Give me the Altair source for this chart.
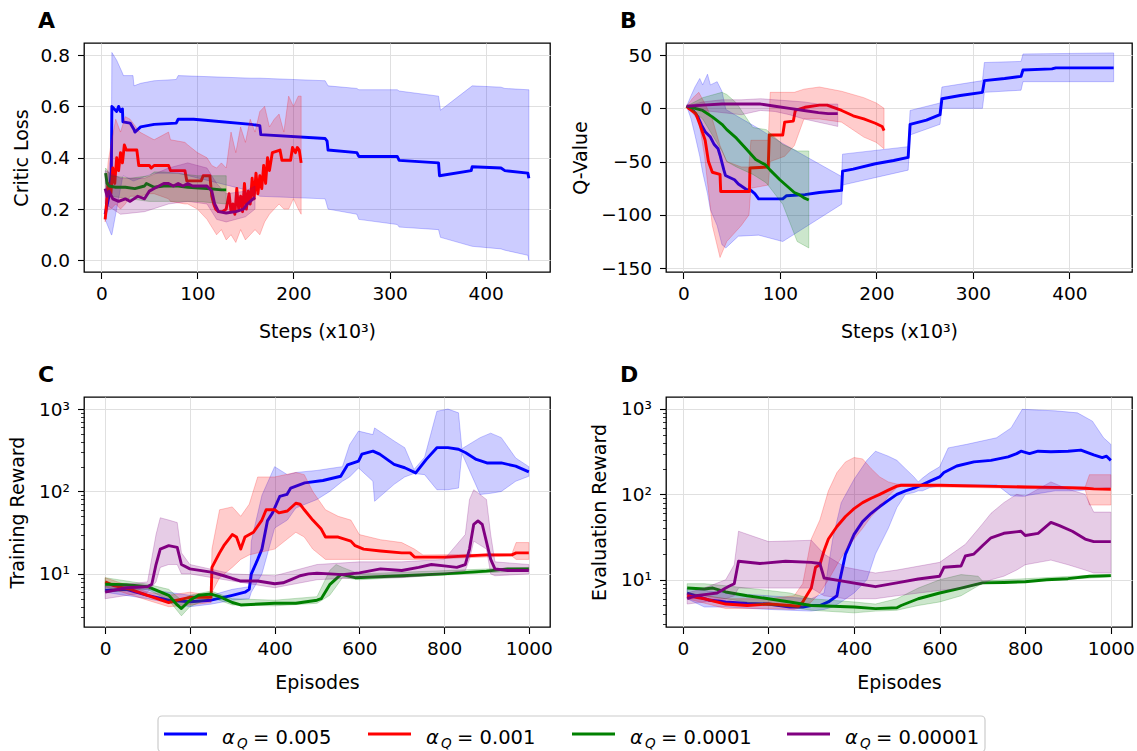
import altair as alt
import pandas as pd

FONT = "DejaVu Sans"
COLORS = ["#0000ff", "#ff0000", "#008000", "#800080"]
ALPHAS = ["0.005", "0.001", "0.0001", "0.00001"]

# ---------------- Panel A : Critic loss vs steps (x10^3) ----------------
A1_X = [4, 8, 10.5, 11, 16, 18, 20, 22, 22.5, 30, 34, 35, 41, 55, 78, 80, 96, 111, 156, 165, 166, 233, 235, 236, 266, 268, 308, 310, 351, 352, 385, 386, 416, 420, 444, 445]
A1_Y = [0.18, 0.25, 0.35, 0.6, 0.58, 0.6, 0.58, 0.59, 0.54, 0.535, 0.51, 0.50, 0.52, 0.53, 0.535, 0.55, 0.55, 0.545, 0.53, 0.525, 0.49, 0.475, 0.465, 0.43, 0.42, 0.405, 0.405, 0.39, 0.38, 0.33, 0.35, 0.365, 0.36, 0.35, 0.34, 0.32]
A1_BX = [4, 10.5, 11, 16, 22, 23, 33, 34, 41, 55, 78, 80, 156, 165, 233, 236, 266, 268, 308, 310, 351, 353, 386, 416, 420, 444, 445]
A1_HI = [0.2, 0.45, 0.81, 0.78, 0.73, 0.72, 0.72, 0.68, 0.69, 0.70, 0.705, 0.72, 0.71, 0.71, 0.70, 0.68, 0.67, 0.665, 0.665, 0.66, 0.64, 0.585, 0.68, 0.675, 0.67, 0.665, 0.665]
A1_LO = [0.16, 0.1, 0.1, 0.2, 0.32, 0.33, 0.31, 0.31, 0.32, 0.34, 0.34, 0.34, 0.27, 0.25, 0.24, 0.2, 0.18, 0.16, 0.14, 0.13, 0.12, 0.09, 0.055, 0.045, 0.04, 0.02, 0.0]

A2_X = [4, 5, 7, 10, 12, 14, 16, 18, 20, 22, 24, 26, 30, 37, 38, 39, 50, 52, 55, 70, 72, 87, 89, 104, 106, 113, 115, 117, 119, 122, 126, 130, 133, 135, 137, 139, 141, 143, 145, 147, 149, 151, 153, 155, 157, 159, 161, 163, 165, 167, 169, 171, 173, 175, 178, 186, 188, 197, 199, 202, 204, 206, 208]
A2_Y = [0.16, 0.2, 0.3, 0.26, 0.36, 0.3, 0.4, 0.35, 0.42, 0.38, 0.45, 0.43, 0.43, 0.43, 0.40, 0.37, 0.37, 0.36, 0.37, 0.37, 0.35, 0.35, 0.31, 0.31, 0.33, 0.33, 0.25, 0.22, 0.2, 0.19, 0.19, 0.2, 0.26, 0.19, 0.22, 0.18, 0.28, 0.2, 0.25, 0.19, 0.3, 0.2, 0.27, 0.22, 0.32, 0.24, 0.34, 0.26, 0.33, 0.28, 0.37, 0.3, 0.4, 0.35, 0.42, 0.43, 0.39, 0.39, 0.44, 0.42, 0.44, 0.43, 0.38]
A2_BX = [4, 7, 10, 15, 20, 25, 30, 40, 50, 55, 70, 72, 87, 90, 100, 110, 115, 120, 125, 130, 135, 140, 145, 150, 155, 160, 165, 170, 175, 180, 185, 190, 195, 200, 205, 208]
A2_HI = [0.2, 0.38, 0.45, 0.55, 0.5, 0.56, 0.55, 0.5, 0.48, 0.47, 0.5, 0.47, 0.46, 0.45, 0.42, 0.4, 0.37, 0.36, 0.38, 0.36, 0.5, 0.42, 0.52, 0.46, 0.55, 0.5, 0.58, 0.6, 0.52, 0.55, 0.57, 0.5, 0.64, 0.6, 0.64, 0.64]
A2_LO = [0.15, 0.2, 0.2, 0.22, 0.2, 0.22, 0.25, 0.25, 0.26, 0.26, 0.24, 0.23, 0.22, 0.22, 0.2, 0.16, 0.13, 0.1, 0.12, 0.08, 0.1, 0.07, 0.12, 0.08, 0.1, 0.12, 0.1, 0.15, 0.18, 0.2, 0.22, 0.2, 0.2, 0.24, 0.2, 0.18]

A3_X = [4.5, 6, 8, 15, 25, 35, 45, 47, 55, 65, 80, 90, 110, 125, 130]
A3_Y = [0.34, 0.3, 0.29, 0.285, 0.285, 0.28, 0.29, 0.3, 0.285, 0.29, 0.29, 0.285, 0.28, 0.275, 0.275]
A3_BX = [4.5, 10, 30, 50, 55, 65, 100, 130]
A3_HI = [0.36, 0.33, 0.32, 0.33, 0.345, 0.345, 0.33, 0.33]
A3_LO = [0.27, 0.25, 0.24, 0.23, 0.23, 0.23, 0.23, 0.22]

A4_X = [4, 6, 8, 12, 18, 25, 30, 38, 45, 50, 55, 60, 65, 70, 75, 80, 85, 90, 95, 100, 110, 115, 118, 122, 130, 140, 148, 152, 158, 160]
A4_Y = [0.28, 0.25, 0.27, 0.24, 0.23, 0.24, 0.23, 0.25, 0.24, 0.27, 0.28, 0.29, 0.3, 0.3, 0.29, 0.3, 0.29, 0.3, 0.29, 0.29, 0.29, 0.27, 0.22, 0.19, 0.185, 0.19, 0.2, 0.22, 0.24, 0.245]
A4_BX = [4, 20, 45, 70, 90, 110, 120, 130, 150, 160]
A4_HI = [0.35, 0.32, 0.32, 0.36, 0.38, 0.36, 0.3, 0.26, 0.27, 0.29]
A4_LO = [0.22, 0.18, 0.19, 0.22, 0.23, 0.22, 0.16, 0.15, 0.17, 0.2]

# ---------------- Panel B : Q-value vs steps ----------------
B1_X = [3.4, 11, 15, 19, 22.6, 28, 32, 36, 38, 42, 43.6, 53, 57, 65, 70, 74, 78, 103, 107, 126, 141, 164, 165, 176, 199, 218, 233, 235, 252, 266, 268, 287, 310, 312, 333, 350, 352, 382, 386, 446]
B1_Y = [2, -3, -8, -16, -22, -27, -34, -38, -44, -58, -63, -67, -71, -76, -77, -80, -85, -85, -82, -81, -79, -77, -59, -57, -52, -49, -46, -15, -11, -6, 9, 12, 15, 26, 28, 30, 36, 37, 38, 38]
B1_BX = [3.4, 8, 12, 17, 20, 25, 28, 35, 40, 44, 57, 78, 103, 164, 165, 233, 235, 266, 268, 310, 312, 350, 352, 446]
B1_HI = [2, 12, 20, 28, 22, 32, 22, 25, 16, -1, -8, -19, -33, -64, -43, -36, -2, 5, 20, 26, 43, 44, 51, 52]
B1_LO = [2, -10, -25, -45, -60, -80, -95, -110, -128, -131, -120, -119, -125, -90, -72, -58, -25, -15, 0, 0, 15, 17, 25, 25]

B2_X = [3.4, 5.4, 13, 17, 22.6, 26, 30, 38, 38.7, 68.5, 69, 88, 89, 103, 105, 114, 116, 126, 141, 149, 164, 176, 187, 199, 206, 208]
B2_Y = [2, 0, -5, -15, -30, -50, -60, -62, -78, -78, -56, -55, -25, -25, -13, -12, -2, 1, 3, 3, -2, -7, -10, -14, -17, -21]
B2_BX = [3.4, 10, 16, 22, 30, 38, 45, 60, 68, 70, 88, 90, 105, 115, 125, 141, 164, 187, 200, 208]
B2_HI = [2, 10, 15, 5, -10, -35, -50, -55, -55, -30, -30, 15, 15, 15, 18, 20, 16, 10, 5, 0]
B2_LO = [2, -5, -12, -45, -110, -140, -125, -110, -100, -75, -72, -50, -45, -35, -10, -10, -13, -27, -32, -38]

B3_X = [3.4, 20, 30, 40, 45, 55, 65, 75, 85, 90, 100, 110, 115, 120, 125, 130]
B3_Y = [2, -2, -8, -15, -20, -28, -38, -48, -53, -58, -67, -75, -79, -81, -84, -86]
B3_BX = [3.4, 20, 40, 45, 55, 72, 86, 103, 118, 130]
B3_HI = [2, 10, 15, 13, 5, -18, -20, -34, -40, -40]
B3_LO = [2, -10, -40, -50, -55, -62, -70, -90, -125, -131]

B4_X = [3.4, 20, 40, 60, 80, 95, 110, 125, 140, 150, 160]
B4_Y = [2, 3, 4, 4, 4, 2, 0, -2, -4, -5, -5]
B4_BX = [3.4, 20, 40, 60, 80, 95, 110, 125, 140, 150, 160]
B4_HI = [2, 6, 8, 8, 9, 8, 7, 6, 4, 4, 4]
B4_LO = [2, -2, -4, -6, -2, -3, -6, -10, -13, -15, -17]

# ---------------- Panel C : training reward vs episodes ----------------
C1_X = [0, 50, 100, 150, 200, 250, 300, 330, 340, 345, 360, 370, 383, 395, 412, 429, 438, 471, 514, 556, 572, 598, 606, 632, 648, 682, 707, 733, 758, 783, 809, 834, 851, 876, 901, 935, 969, 1000]
C1_Y = [6.3, 6.5, 5.5, 4.8, 4.6, 4.8, 5.5, 6, 6.5, 10, 15, 20, 44, 55, 87, 92, 110, 127, 136, 153, 210, 234, 284, 309, 284, 213, 194, 168, 245, 340, 340, 325, 295, 245, 222, 222, 203, 173]
C1_BX = [0, 100, 200, 250, 300, 340, 345, 370, 400, 430, 450, 500, 530, 560, 577, 598, 632, 636, 682, 707, 729, 754, 783, 809, 834, 842, 885, 910, 935, 969, 1000]
C1_HI = [7.5, 6.5, 5.5, 5.5, 6.5, 7, 25, 90, 200, 160, 170, 180, 190, 200, 370, 540, 490, 590, 410, 340, 185, 260, 940, 1000, 900, 330, 450, 510, 450, 255, 200]
C1_LO = [6, 5, 4, 4.3, 4.8, 5, 6, 10, 36, 45, 63, 80, 100, 133, 150, 193, 133, 76, 122, 150, 165, 160, 105, 105, 110, 290, 92, 95, 100, 133, 153]

C2_X = [0, 20, 60, 100, 150, 170, 200, 250, 252, 270, 280, 300, 310, 320, 330, 350, 370, 380, 400, 410, 430, 450, 460, 470, 490, 510, 520, 550, 580, 590, 610, 650, 700, 720, 730, 800, 900, 960, 970, 1000]
C2_Y = [8, 7.2, 6.5, 5.5, 4.5, 4.8, 5.2, 5.2, 12, 18, 22, 30, 28, 20, 28, 32, 45, 60, 60, 55, 58, 72, 70, 60, 45, 35, 28, 28, 25, 22, 20, 19, 18, 18, 16, 16, 17, 17, 18, 18]
C2_BX = [0, 100, 150, 200, 250, 252, 270, 300, 320, 340, 360, 400, 450, 470, 490, 520, 550, 580, 600, 650, 700, 730, 750, 960, 970, 1000]
C2_HI = [9, 6, 5.5, 6, 5.5, 20, 60, 65, 50, 70, 150, 150, 170, 160, 100, 60, 50, 45, 30, 26, 24, 20, 17, 17.5, 24, 24]
C2_LO = [7, 4.8, 4, 4.2, 4.5, 6, 9, 12, 15, 17, 18, 20, 32, 28, 20, 15, 15, 15, 15, 15, 15, 15, 15, 16.5, 15, 15]

C3_X = [0, 50, 100, 150, 170, 180, 200, 220, 250, 270, 300, 320, 400, 450, 500, 510, 530, 556, 560, 590, 700, 800, 900, 950, 1000]
C3_Y = [7.5, 7.4, 7, 5.5, 4.2, 3.8, 4.8, 5.5, 5.7, 5.3, 4.5, 4.2, 4.4, 4.4, 4.8, 5, 7.4, 9.8, 9.8, 9, 9.5, 10, 10.8, 11.5, 11.5]
C3_BX = [0, 100, 150, 180, 200, 250, 300, 400, 500, 530, 545, 560, 600, 1000]
C3_HI = [9, 7.5, 6.5, 4.8, 5.5, 6.2, 5, 4.8, 5.3, 11, 13, 12, 10, 12]
C3_LO = [6, 6.5, 4.8, 3.1, 4, 5.2, 4.2, 4.1, 4.4, 5.5, 7, 9, 8.5, 11]

C4_X = [0, 50, 100, 110, 120, 130, 150, 170, 180, 200, 250, 280, 300, 320, 360, 400, 420, 440, 460, 480, 500, 530, 560, 600, 650, 700, 740, 770, 800, 830, 850, 860, 870, 880, 890, 910, 920, 950, 1000]
C4_Y = [6, 6.8, 7, 7.5, 13, 20, 22, 21, 13, 11.5, 10.5, 9.5, 8.8, 8.2, 8.2, 7.6, 7.8, 8.6, 9.5, 10, 10.2, 10, 9.8, 10.3, 11.5, 11, 12, 13, 12.5, 12, 13, 20, 40, 44, 40, 15, 11.5, 11, 11]
C4_BX = [0, 100, 120, 130, 150, 170, 180, 200, 300, 400, 500, 600, 700, 800, 850, 860, 870, 900, 910, 920, 1000]
C4_HI = [7, 8, 30, 48, 45, 42, 18, 13, 10, 9.5, 13, 14, 14, 15, 30, 80, 105, 80, 30, 14, 13]
C4_LO = [5, 6, 8, 12, 13, 13, 10, 10, 8.2, 6.8, 8.5, 9, 9, 10, 11, 15, 25, 20, 10, 9.5, 10]

# ---------------- Panel D : evaluation reward vs episodes ----------------
D1_X = [10, 30, 60, 100, 150, 200, 250, 280, 300, 320, 340, 360, 365, 380, 400, 420, 440, 460, 480, 500, 520, 540, 560, 580, 600, 610, 640, 680, 720, 760, 780, 790, 810, 830, 860, 900, 930, 960, 980, 990, 1000]
D1_Y = [7, 6.5, 5.8, 5.5, 5.3, 5.2, 4.8, 4.8, 5, 5, 5.5, 6.5, 9, 20, 34, 48, 60, 72, 85, 100, 110, 118, 130, 145, 160, 180, 215, 240, 250, 275, 300, 320, 300, 320, 315, 320, 330, 290, 270, 280, 250]
D1_BX = [10, 50, 100, 200, 300, 330, 350, 370, 400, 430, 450, 480, 500, 520, 540, 550, 560, 577, 600, 620, 663, 733, 767, 793, 870, 922, 957, 983, 1000]
D1_HI = [8, 7.5, 7, 6.5, 6, 7, 30, 80, 150, 250, 320, 280, 250, 200, 160, 140, 155, 180, 210, 350, 385, 460, 600, 990, 950, 900, 720, 460, 385]
D1_LO = [6, 4.8, 4.8, 4.5, 4.3, 4.5, 4.8, 5.5, 7, 10, 20, 40, 70, 100, 105, 110, 110, 120, 125, 128, 130, 130, 96, 95, 110, 110, 115, 118, 120]

D2_X = [10, 50, 100, 150, 200, 250, 270, 280, 300, 310, 320, 330, 340, 360, 380, 400, 420, 440, 460, 480, 500, 510, 600, 700, 800, 900, 940, 960, 1000]
D2_Y = [6.5, 6, 5.2, 5, 5.2, 5, 4.9, 5.5, 8, 14, 15, 22, 30, 42, 55, 68, 80, 90, 100, 112, 125, 128, 128, 125, 122, 120, 118, 116, 115]
D2_BX = [10, 100, 200, 260, 280, 300, 320, 340, 360, 380, 400, 420, 440, 460, 480, 500, 510, 940, 950, 1000]
D2_HI = [7, 6, 6, 6.5, 9, 30, 50, 110, 180, 240, 270, 260, 200, 160, 140, 132, 132, 122, 170, 170]
D2_LO = [6, 4.6, 4.6, 4.5, 4.8, 5.5, 7, 10, 15, 22, 30, 40, 55, 70, 95, 120, 124, 114, 75, 75]

D3_X = [10, 50, 70, 100, 150, 200, 250, 300, 350, 400, 450, 500, 510, 550, 600, 650, 700, 750, 800, 850, 900, 950, 1000]
D3_Y = [8, 7.8, 8, 7.2, 6.5, 6, 5.5, 5, 4.9, 4.8, 4.6, 4.7, 5, 6, 7, 8, 9.2, 9.3, 9.5, 10, 10.3, 11, 11.2]
D3_BX = [10, 50, 100, 200, 250, 300, 400, 450, 500, 550, 600, 650, 690, 700, 1000]
D3_HI = [9, 9, 8.5, 7.5, 7, 6, 5.5, 5.2, 6, 8, 10, 11.5, 11, 9.7, 11.6]
D3_LO = [7, 6.5, 6, 5, 4.8, 4.4, 4.1, 4.3, 4.4, 5, 5.5, 6.5, 8.5, 9.0, 10.8]

D4_X = [10, 30, 60, 80, 100, 110, 120, 130, 180, 240, 300, 320, 330, 380, 420, 450, 500, 550, 600, 610, 650, 660, 680, 700, 720, 750, 790, 800, 830, 860, 880, 910, 940, 960, 1000]
D4_Y = [6, 6.5, 6.8, 7, 8, 8.5, 9, 16.5, 15.5, 16.5, 16, 15.5, 10.5, 9.5, 8.8, 8.3, 9.2, 10.2, 11, 14, 14.5, 19, 20, 25, 31, 35, 37, 33, 35, 47, 43, 37, 30, 28, 28]
D4_BX = [10, 50, 100, 120, 130, 200, 300, 330, 380, 450, 500, 600, 660, 700, 720, 750, 780, 800, 860, 900, 940, 960, 1000]
D4_HI = [7, 8, 10, 15, 37, 28, 29, 20, 14, 12, 13, 16, 26, 45, 60, 80, 100, 95, 140, 115, 100, 62, 62]
D4_LO = [5.2, 5.5, 6, 6.5, 8, 8, 8, 6.5, 6, 6, 6.5, 7.5, 8, 9, 10, 11, 13, 15, 17, 15, 13, 12, 12]

# tick values
STEP_TICKS = [0, 100, 200, 300, 400]
EP_TICKS = [0, 200, 400, 600, 800, 1000]
LOSS_TICKS = [0.0, 0.2, 0.4, 0.6, 0.8]
Q_TICKS = [-150, -100, -50, 0, 50]
LOG_TICKS = [3, 4, 5, 6, 7, 8, 9, 10, 20, 30, 40, 50, 60, 70, 80, 90,
             100, 200, 300, 400, 500, 600, 700, 800, 900, 1000]

# ---------------- layout constants ----------------
W = 466
H_TOP = 229
H_BOT = 230
GRID = "#e0e0e0"
TICK_FS = 18.5
TITLE_FS = 19
DECADE = "datum.value === 10 || datum.value === 100 || datum.value === 1000"


def x_axis(title, vals, ty):
    return alt.Axis(title=title, values=vals, format="d", grid=True, gridColor=GRID, gridWidth=1,
                    domain=False, tickSize=6.5, tickColor="black", tickWidth=1.1,
                    labelFont=FONT, labelFontSize=TICK_FS, labelColor="black", labelPadding=6,
                    labelFlush=False, labelOverlap=False,
                    titleFont=FONT, titleFontSize=TITLE_FS, titleFontWeight="normal", titleColor="black",
                    titleX=W / 2, titleY=ty, titleBaseline="alphabetic", titleAlign="center")


def y_axis(title, vals, fmt, tx, h):
    return alt.Axis(title=title, values=vals, format=fmt, grid=True, gridColor=GRID, gridWidth=1,
                    domain=False, tickSize=6.5, tickColor="black", tickWidth=1.1,
                    labelFont=FONT, labelFontSize=TICK_FS, labelColor="black", labelPadding=8,
                    labelFlush=False, labelOverlap=False,
                    titleFont=FONT, titleFontSize=TITLE_FS, titleFontWeight="normal", titleColor="black",
                    titleX=tx, titleY=h / 2, titleBaseline="alphabetic", titleAlign="center", titleAngle=270)


def y_log_axis(title, tx, h):
    return alt.Axis(title=title, values=LOG_TICKS, grid=True, gridColor=GRID, gridWidth=1,
                    gridOpacity={"condition": {"test": DECADE, "value": 1}, "value": 0},
                    domain=False,
                    tickSize={"condition": {"test": DECADE, "value": 6.5}, "value": 3.5},
                    tickWidth={"condition": {"test": DECADE, "value": 1.1}, "value": 0.8},
                    tickColor="black",
                    labelExpr="datum.value === 1000 ? '10³' : datum.value === 100 ? '10²' : datum.value === 10 ? '10¹' : ''",
                    labelFont=FONT, labelFontSize=TICK_FS, labelColor="black", labelPadding=8,
                    labelFlush=False, labelOverlap=False,
                    titleFont=FONT, titleFontSize=TITLE_FS, titleFontWeight="normal", titleColor="black",
                    titleX=tx, titleY=h / 2, titleBaseline="alphabetic", titleAlign="center", titleAngle=270)


def panel(series, xscale, yscale, xaxis, yaxis, letter, h, anchor=False, legend=False):
    layers = []
    if anchor:
        layers.append(
            alt.Chart(pd.DataFrame({"a": [0]})).mark_rect(fill="white", opacity=0).encode(
                x=alt.value(-83), x2=alt.value(0), y=alt.value(-42), y2=alt.value(0)))
    for i, (lx, ly, bx, lo, hi) in enumerate(series):
        c = COLORS[i]
        bdf = pd.DataFrame({"x": bx, "lo": lo, "hi": hi})
        ldf = pd.DataFrame({"x": lx, "y": ly})
        layers.append(
            alt.Chart(bdf).mark_area(fill=c, fillOpacity=0.2, stroke=c, strokeOpacity=0.22,
                                     strokeWidth=1, clip=True).encode(
                x=alt.X("x:Q", scale=xscale, axis=xaxis),
                y=alt.Y("lo:Q", scale=yscale, axis=yaxis),
                y2="hi:Q"))
        layers.append(
            alt.Chart(ldf).mark_line(color=c, strokeWidth=2.9, strokeJoin="round", clip=True).encode(
                x=alt.X("x:Q", scale=xscale, axis=xaxis),
                y=alt.Y("y:Q", scale=yscale, axis=yaxis)))
    layers.append(
        alt.Chart(pd.DataFrame({"t": [letter]})).mark_text(
            font=FONT, fontSize=22, fontWeight="bold", align="left", baseline="alphabetic",
            color="black").encode(x=alt.value(-46), y=alt.value(-15), text="t:N"))
    if legend:
        layers.extend(legend_layers())
    return alt.layer(*layers).properties(width=W, height=h)


# legend (drawn inside panel C's coordinate frame, below the plots)
LEG_X0 = [80, 284, 488, 703]
LEG_TOP = 319
LEG_LINE_Y = 337
LEG_TEXT_Y = 347


def legend_layers():
    df = pd.DataFrame({
        "x0": LEG_X0,
        "x1": [v + 43 for v in LEG_X0],
        "xa": [v + 58 for v in LEG_X0],
        "xq": [v + 73 for v in LEG_X0],
        "xe": [v + 89 for v in LEG_X0],
        "col": COLORS,
        "a": ["α"] * 4,
        "q": ["Q"] * 4,
        "eq": ["= " + a for a in ALPHAS],
    })
    box = alt.Chart(pd.DataFrame({"b": [0]})).mark_rect(
        fill="white", stroke="#cccccc", strokeWidth=1.2, cornerRadius=4).encode(
        x=alt.value(74), x2=alt.value(901), y=alt.value(LEG_TOP), y2=alt.value(LEG_TOP + 36))
    lines = alt.Chart(df).mark_rule(strokeWidth=2.9).encode(
        x=alt.X("x0:Q", scale=None), x2="x1:Q", y=alt.value(LEG_LINE_Y),
        color=alt.Color("col:N", scale=None))
    alpha = alt.Chart(df).mark_text(font=FONT, fontSize=19.5, fontStyle="italic", align="left",
                                    baseline="alphabetic", color="black").encode(
        x=alt.X("xa:Q", scale=None), y=alt.value(LEG_TEXT_Y), text="a:N")
    sub = alt.Chart(df).mark_text(font=FONT, fontSize=13.5, fontStyle="italic", align="left",
                                  baseline="alphabetic", color="black").encode(
        x=alt.X("xq:Q", scale=None), y=alt.value(LEG_TEXT_Y + 4), text="q:N")
    eq = alt.Chart(df).mark_text(font=FONT, fontSize=19.5, align="left",
                                 baseline="alphabetic", color="black").encode(
        x=alt.X("xe:Q", scale=None), y=alt.value(LEG_TEXT_Y), text="eq:N")
    return [box, lines, alpha, sub, eq]


sx_steps_a = alt.Scale(domain=[-18, 467], nice=False, zero=False)
sx_steps_b = alt.Scale(domain=[-18, 465], nice=False, zero=False)
sy_loss = alt.Scale(domain=[-0.045, 0.847], nice=False, zero=False)
sy_q = alt.Scale(domain=[-153.6, 61.3], nice=False, zero=False)
sx_ep_c = alt.Scale(domain=[-50, 1050], nice=False, zero=False)
sx_ep_d = alt.Scale(domain=[-39.5, 1049.5], nice=False, zero=False)
sy_tr = alt.Scale(type="log", domain=[2.27, 1400], nice=False)
sy_ev = alt.Scale(type="log", domain=[2.8, 1380], nice=False)

pA = panel([(A1_X, A1_Y, A1_BX, A1_LO, A1_HI), (A2_X, A2_Y, A2_BX, A2_LO, A2_HI),
            (A3_X, A3_Y, A3_BX, A3_LO, A3_HI), (A4_X, A4_Y, A4_BX, A4_LO, A4_HI)],
           sx_steps_a, sy_loss,
           x_axis("Steps (x10³)", STEP_TICKS, 65),
           y_axis("Critic Loss", LOSS_TICKS, ".1f", -57, H_TOP), "A", H_TOP, anchor=True)
pB = panel([(B1_X, B1_Y, B1_BX, B1_LO, B1_HI), (B2_X, B2_Y, B2_BX, B2_LO, B2_HI),
            (B3_X, B3_Y, B3_BX, B3_LO, B3_HI), (B4_X, B4_Y, B4_BX, B4_LO, B4_HI)],
           sx_steps_b, sy_q,
           x_axis("Steps (x10³)", STEP_TICKS, 65),
           y_axis("Q-Value", Q_TICKS, "d", -80, H_TOP), "B", H_TOP)
pC = panel([(C1_X, C1_Y, C1_BX, C1_LO, C1_HI), (C2_X, C2_Y, C2_BX, C2_LO, C2_HI),
            (C3_X, C3_Y, C3_BX, C3_LO, C3_HI), (C4_X, C4_Y, C4_BX, C4_LO, C4_HI)],
           sx_ep_c, sy_tr,
           x_axis("Episodes", EP_TICKS, 61),
           y_log_axis("Training Reward", -61, H_BOT), "C", H_BOT, legend=True)
pD = panel([(D1_X, D1_Y, D1_BX, D1_LO, D1_HI), (D2_X, D2_Y, D2_BX, D2_LO, D2_HI),
            (D3_X, D3_Y, D3_BX, D3_LO, D3_HI), (D4_X, D4_Y, D4_BX, D4_LO, D4_HI)],
           sx_ep_d, sy_ev,
           x_axis("Episodes", EP_TICKS, 61),
           y_log_axis("Evaluation Reward", -61, H_BOT), "D", H_BOT)

chart = alt.concat(pA, pB, pC, pD, columns=2, spacing={"row": 125, "column": 116},
                   bounds="flush", align="each").properties(
    padding=0, background="white"
).configure(font=FONT).configure_view(stroke="black", strokeWidth=1.3)

chart.save("out.html", embed_options={"renderer": "svg", "actions": False})
